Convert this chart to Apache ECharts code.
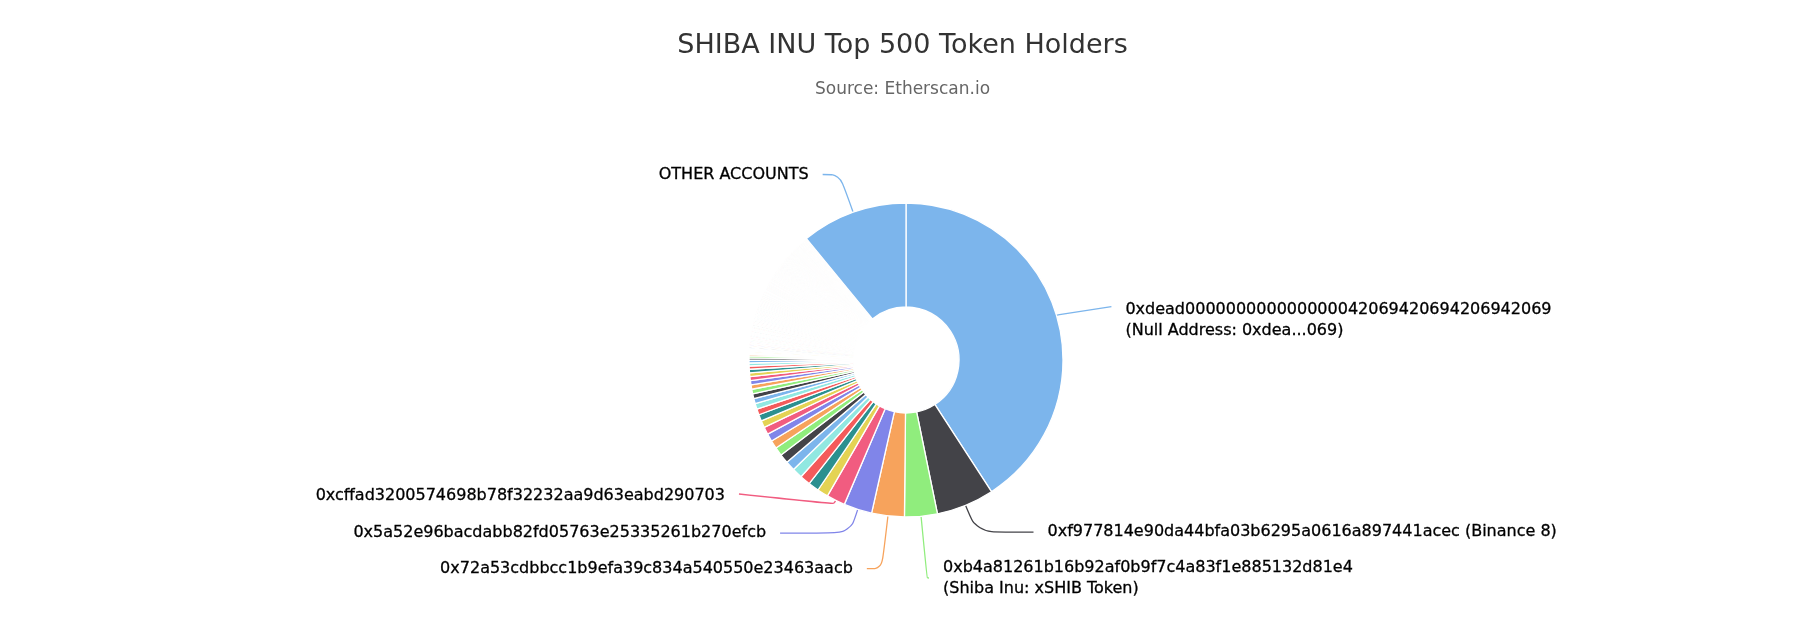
<!DOCTYPE html>
<html>
<head>
<meta charset="utf-8">
<script src="https://cdn.jsdelivr.net/npm/echarts@6/dist/echarts.min.js"></script>
<style>
  html, body { margin: 0; padding: 0; background: #ffffff; }
  #chart { width: 1805px; height: 635px; }
</style>
</head>
<body>
<div id="chart"></div>
<script>
// ---------- data (token balances, billions of SHIB) ----------
const titleText = 'SHIBA INU Top 500 Token Holders';
const subtitleText = 'Source: Etherscan.io';

const namedHolders = [
  '0xdead000000000000000042069420694206942069\n(Null Address: 0xdea...069)',
  '0xf977814e90da44bfa03b6295a0616a897441acec (Binance 8)',
  '0xb4a81261b16b92af0b9f7c4a83f1e885132d81e4\n(Shiba Inu: xSHIB Token)',
  '0x72a53cdbbcc1b9efa39c834a540550e23463aacb',
  '0x5a52e96bacdabb82fd05763e25335261b270efcb',
  '0xcffad3200574698b78f32232aa9d63eabd290703'
];
const namedValues = [409700, 59700, 33800, 33700, 29200, 19200];

// holders #7 - #40
const midValues = [
  11390, 11110, 10830, 10560, 10000, 9440, 8890, 8330, 8060, 7780,
  7220, 6670, 6110, 5830, 5280, 5000, 4720, 4440, 4400, 4170,
  3890, 3610, 3330, 3060, 2780, 2500, 1940, 1670, 1390, 1250,
  1110, 970, 890, 830
];

// holders #41 - #500
const tailValues = [
  800,780,760,740,720,700,685,670,655,640,
  630,622,614,606,598,590,583,576,569,562,
  556,550,544,538,532,526,521,516,511,506,
  501,496,492,488,484,480,476,472,468,464,
  461,458,455,452,449,446,443,441,439,437,
  435,433,432,431,430,429,428,428,427,427,
  426,424,422,420,418,416,414,412,410,408,
  406,404,402,400,398,396,395,393,391,389,
  387,385,384,382,380,378,377,375,373,372,
  370,368,367,365,364,362,361,359,358,356,
  355,353,352,351,349,348,346,345,344,342,
  341,340,338,337,336,335,333,332,331,330,
  329,328,327,325,324,323,322,321,320,319,
  318,317,316,315,314,313,312,311,310,309,
  308,307,306,305,304,303,302,302,301,300,
  299,298,297,296,296,295,294,293,292,292,
  276,275,274,274,273,272,271,271,270,269,
  268,268,267,266,265,265,264,263,263,262,
  261,261,260,259,259,258,257,257,256,256,
  255,254,254,253,253,252,251,251,250,250,
  249,249,248,247,247,246,246,245,245,244,
  244,243,243,242,242,241,241,240,240,239,
  239,238,238,237,237,236,236,235,235,234,
  234,234,233,233,232,232,231,231,231,230,
  230,229,229,228,228,228,227,227,226,226,
  226,225,225,224,224,224,223,223,222,222,
  217,216,216,216,215,215,214,214,214,213,
  213,212,212,212,211,211,211,210,210,209,
  209,209,208,208,208,207,207,207,206,206,
  206,205,205,205,204,204,204,203,203,203,
  202,202,202,201,201,201,200,200,200,199,
  199,199,199,198,198,198,197,197,197,196,
  196,196,196,195,195,195,194,194,194,194,
  193,193,193,192,192,192,192,191,191,191,
  191,190,190,190,189,189,189,189,188,188,
  188,188,187,187,187,187,186,186,186,185,
  185,185,185,184,184,184,184,183,183,183,
  183,182,182,182,182,181,181,181,181,181,
  180,180,180,180,179,179,179,179,179,178,
  178,178,178,178,177,177,177,177,177,176,
  176,176,176,176,175,175,175,175,175,175,
  174,174,174,174,174,173,173,173,173,173,
  173,172,172,172,172,172,172,171,171,171,
  171,171,171,170,170,170,170,170,170,170,
  169,169,169,169,169,169,168,168,168,168,
  168,168,167,167,167,167,167,167,167,166
];

const otherName = 'OTHER ACCOUNTS';
const otherValue = 109700;

// ---------- styling ----------
const palette = ['#7cb5ec', '#434348', '#90ed7d', '#f7a35c', '#8085e9',
                 '#f15c80', '#e4d354', '#2b908f', '#f45b5b', '#91e8e1'];
const FONT = '"DejaVu Sans", "Lucida Grande", Verdana, sans-serif';

// label connector lengths [radial, horizontal] for labelled slices
const connectorByIndex = { 0: [3, 52], 1: [29, 57], 2: [62, 2], 3: [53, 15], 4: [25, 70], 5: [4, 95] };
const otherConnector = [40, 17];
// small vertical nudges of label text (px) : {dataIndex: [textDy, lineEndDy]}
const labelNudge = { 0: [6, -8], 5: [-8, -10] };

const allValues = namedValues.concat(midValues, tailValues);
const pieData = allValues.map(function (v, i) {
  const item = { name: i < namedHolders.length ? namedHolders[i] : 'Holder #' + (i + 1), value: v };
  const c = connectorByIndex[i];
  if (c) {
    item.label = { show: true };
    item.labelLine = { show: true, length: c[0], length2: c[1] };
  } else {
    item.label = { show: false };
    item.labelLine = { show: false };
  }
  return item;
});
pieData.push({
  name: otherName, value: otherValue,
  label: { show: true },
  labelLine: { show: true, length: otherConnector[0], length2: otherConnector[1] }
});

const chart = echarts.init(document.getElementById('chart'), null, { renderer: 'canvas' });
chart.setOption({
  animation: false,
  backgroundColor: '#ffffff',
  color: palette,
  title: {
    text: titleText,
    subtext: subtitleText,
    left: 'center',
    top: 27,
    itemGap: 22,
    textStyle: { fontFamily: FONT, fontSize: 27, fontWeight: 'normal', color: '#333333' },
    subtextStyle: { fontFamily: FONT, fontSize: 17, color: '#666666' }
  },
  series: [{
    type: 'pie',
    center: [906, 360],
    radius: [53, 157],
    startAngle: 90,
    clockwise: true,
    avoidLabelOverlap: true,
    silent: true,
    itemStyle: { borderColor: '#ffffff', borderWidth: 1.3 },
    label: {
      show: true,
      position: 'outside',
      formatter: '{b}',
      fontFamily: FONT,
      fontSize: 16,
      lineHeight: 21,
      color: '#000000',
      textBorderColor: '#000000',
      textBorderWidth: 0.3,
      distanceToLabelLine: 14
    },
    labelLine: { show: true, smooth: 0.35, lineStyle: { width: 1.3 } },
    labelLayout: function (params) {
      const n = labelNudge[params.dataIndex];
      if (!n || !params.labelLinePoints) { return {}; }
      const pts = params.labelLinePoints.map(function (p) { return [p[0], p[1]]; });
      pts[pts.length - 1][1] += n[1];
      return { dy: n[0], labelLinePoints: pts };
    },
    emphasis: { disabled: true },
    data: pieData
  }]
});
</script>
</body>
</html>
